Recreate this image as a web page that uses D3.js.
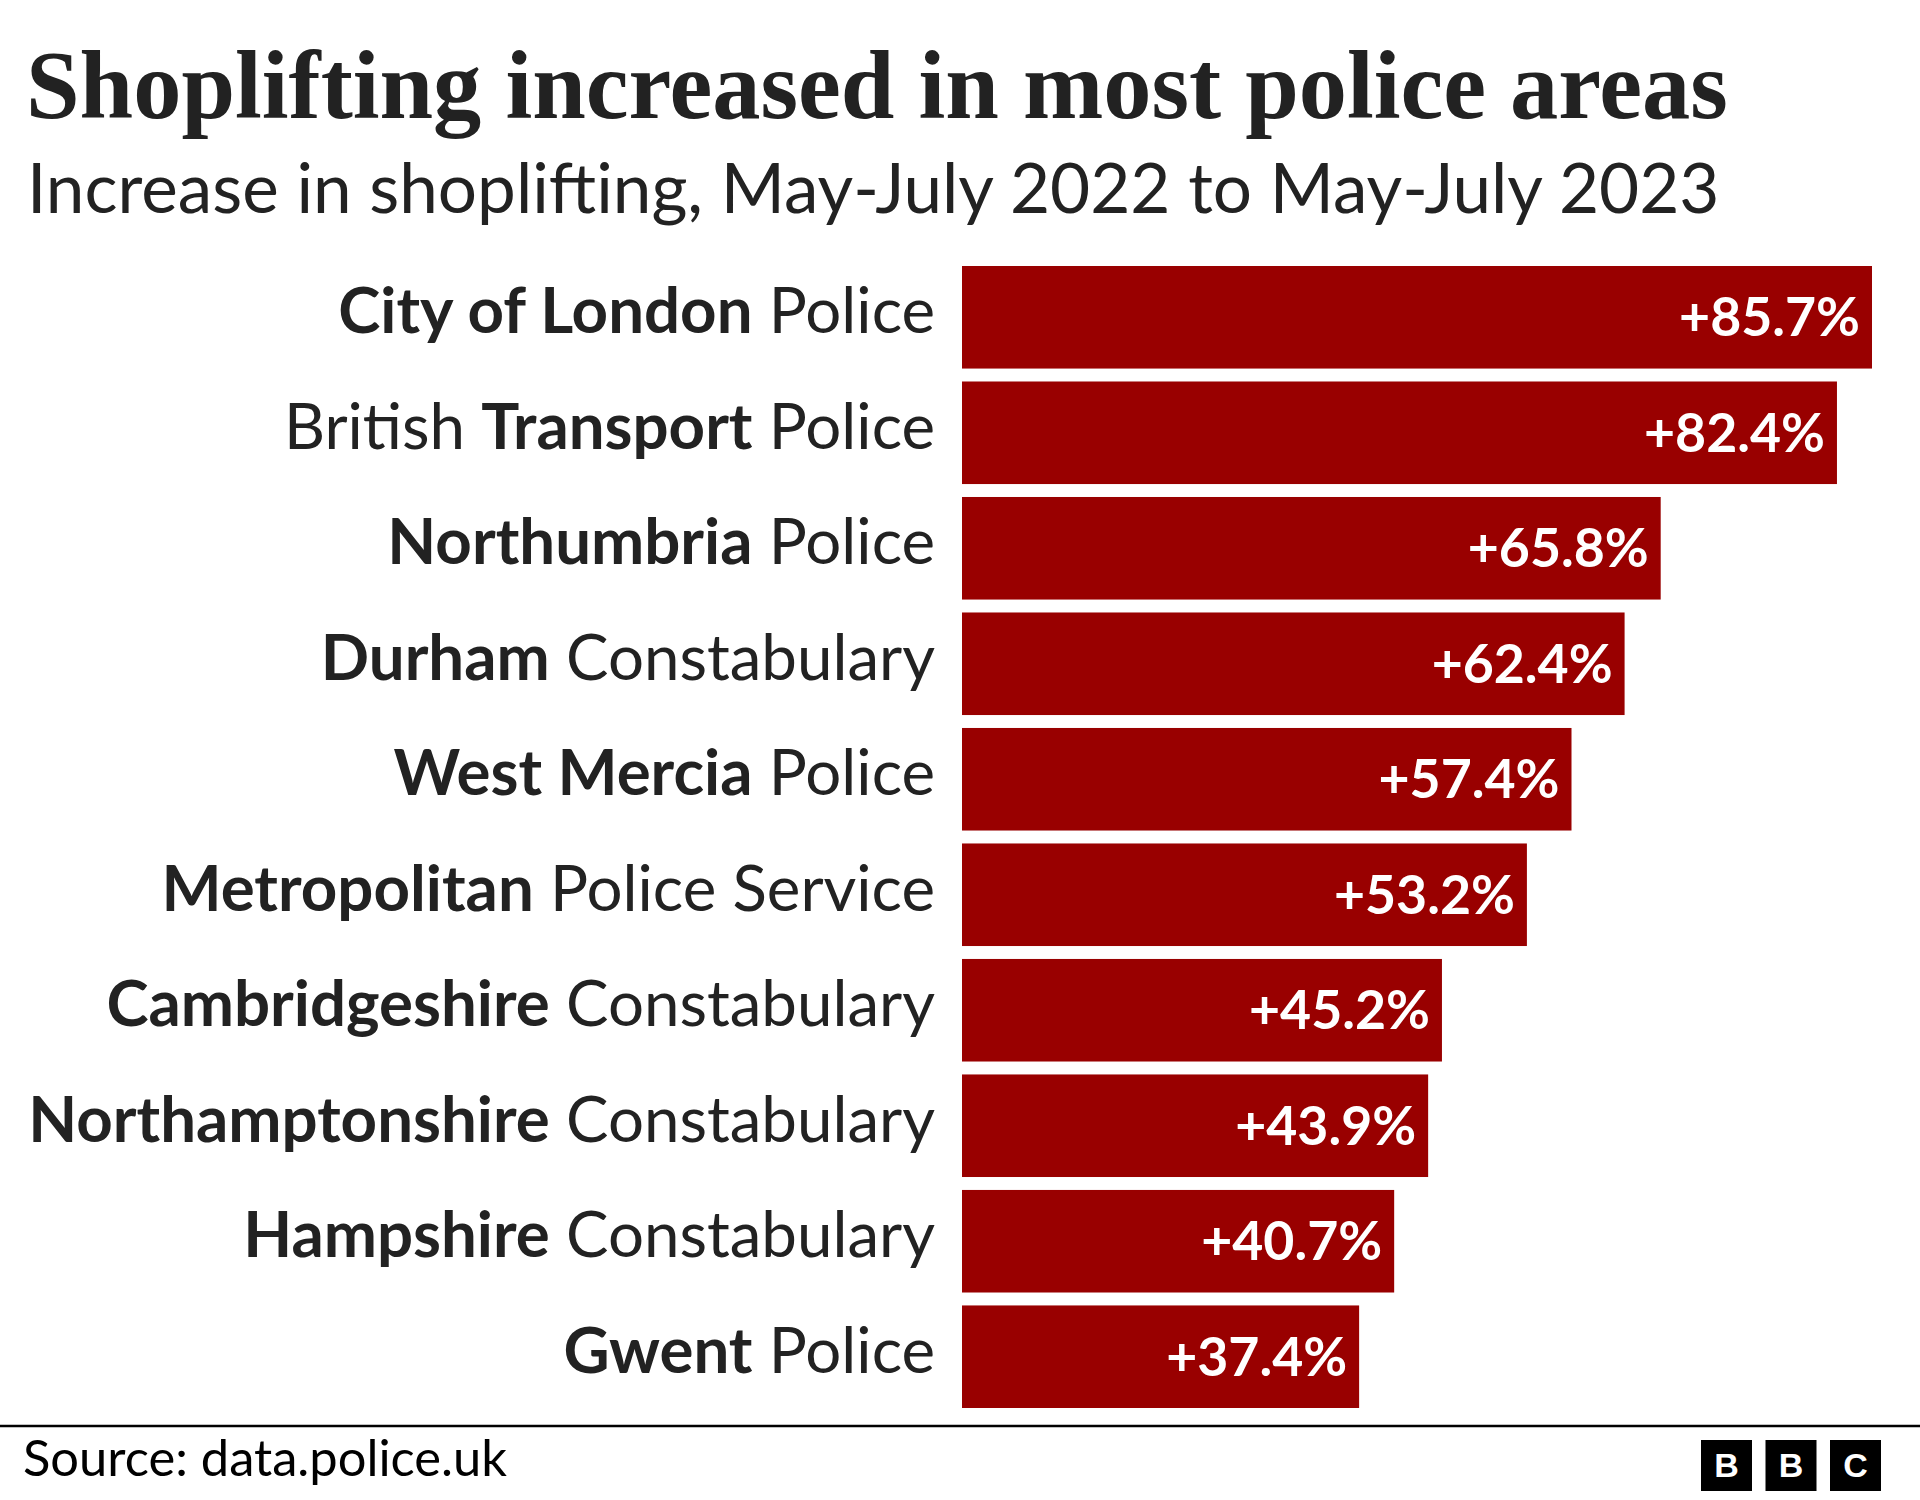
<!DOCTYPE html>
<html>
<head>
<meta charset="utf-8">
<script src="https://cdn.jsdelivr.net/npm/d3@7"></script>
<style>
  html, body { margin: 0; padding: 0; background: #ffffff; }
  svg { display: block; }
</style>
</head>
<body>
<svg id="chart" width="1920" height="1500"></svg>
<script>
// ---- data ----
const titleText = "Shoplifting increased in most police areas";
const subtitleText = "Increase in shoplifting, May-July 2022 to May-July 2023";
const sourceText = "Source: data.police.uk";
const forcePrefix = ["", "British ", "", "", "", "", "", "", "", ""];
const forceBold = ["City of London", "Transport", "Northumbria", "Durham", "West Mercia",
                   "Metropolitan", "Cambridgeshire", "Northamptonshire", "Hampshire", "Gwent"];
const forceSuffix = [" Police", " Police", " Police", " Constabulary", " Police",
                     " Police Service", " Constabulary", " Constabulary", " Constabulary", " Police"];
const increasePct = [85.7, 82.4, 65.8, 62.4, 57.4, 53.2, 45.2, 43.9, 40.7, 37.4];
const logoLetters = ["B", "B", "C"];

// ---- layout ----
const W = 1920, H = 1500;
const sansFont = "Lato, 'Open Sans', sans-serif";
const serifFont = "'Liberation Serif', 'DejaVu Serif', serif";
const textColor = "#222222";
const barColor = "#990000";

const svg = d3.select("#chart");
svg.append("rect").attr("width", W).attr("height", H).attr("fill", "#fff");

function fit(sel, target, base) {
  sel.style("font-size", base + "px");
  const w = sel.node().getComputedTextLength();
  const s = base * target / w;
  sel.style("font-size", s + "px");
  return s;
}

// Title
const title = svg.append("text")
  .attr("x", 26).attr("y", 118)
  .attr("fill", textColor)
  .style("font-family", serifFont)
  .style("font-weight", 700)
  .text(titleText);
fit(title, 1702, 88);

// Subtitle
const subtitle = svg.append("text")
  .attr("x", 27).attr("y", 213)
  .attr("fill", textColor)
  .style("font-family", sansFont)
  .style("font-weight", 400)
  .text(subtitleText);
fit(subtitle, 1693, 66);

// Scales
const idx = d3.range(increasePct.length);
const y = d3.scaleBand().domain(idx).range([266, 1408]).paddingInner(0.112).paddingOuter(0);
const x = d3.scaleLinear().domain([0, d3.max(increasePct)]).range([962, 1872]);

// Bars
svg.append("g").selectAll("rect").data(idx).join("rect")
  .attr("x", x(0))
  .attr("y", d => y(d))
  .attr("width", d => x(increasePct[d]) - x(0))
  .attr("height", y.bandwidth())
  .attr("fill", barColor);

// Category labels
const labels = svg.append("g").selectAll("text").data(idx).join("text")
  .attr("x", 935)
  .attr("y", d => y(d) + y.bandwidth() / 2 + 16)
  .attr("text-anchor", "end")
  .attr("fill", textColor)
  .style("font-family", sansFont);
labels.each(function(d) {
  const t = d3.select(this);
  if (forcePrefix[d]) t.append("tspan").style("font-weight", 400).text(forcePrefix[d]);
  t.append("tspan").style("font-weight", 700).text(forceBold[d]);
  t.append("tspan").style("font-weight", 400).text(forceSuffix[d]);
});
{
  const longest = labels.filter(d => d === 7);
  const s = fit(longest, 907, 62);
  labels.style("font-size", s + "px");
}

// Value labels
const vals = svg.append("g").selectAll("text").data(idx).join("text")
  .attr("x", d => x(increasePct[d]) - 12)
  .attr("y", d => y(d) + y.bandwidth() / 2 + 19)
  .attr("text-anchor", "end")
  .attr("fill", "#ffffff")
  .style("font-family", sansFont)
  .style("font-weight", 700)
  .text(d => "+" + increasePct[d].toFixed(1) + "%");
{
  const s = fit(vals.filter(d => d === 0), 181, 52);
  vals.style("font-size", s + "px");
}

// Footer rule
svg.append("line")
  .attr("x1", 0).attr("x2", W)
  .attr("y1", 1426).attr("y2", 1426)
  .attr("stroke", "#000").attr("stroke-width", 2.5);

// Source
const src = svg.append("text")
  .attr("x", 23).attr("y", 1476)
  .attr("fill", "#000")
  .style("font-family", sansFont)
  .style("font-weight", 400)
  .text(sourceText);
fit(src, 484, 40);

// BBC logo
const logo = svg.append("g");
logoLetters.forEach((L, i) => {
  const lx = 1701 + i * 64.5;
  logo.append("rect").attr("x", lx).attr("y", 1440).attr("width", 51).attr("height", 51).attr("fill", "#000");
  logo.append("text")
    .attr("x", lx + 25.5).attr("y", 1477)
    .attr("text-anchor", "middle")
    .attr("fill", "#fff")
    .style("font-family", "'Liberation Sans', Arial, sans-serif")
    .style("font-weight", 700)
    .style("font-size", "34px")
    .text(L);
});
</script>
</body>
</html>
